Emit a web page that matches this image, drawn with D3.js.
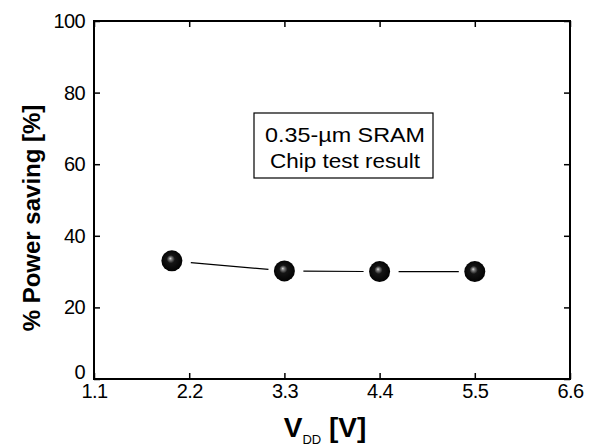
<!DOCTYPE html>
<html><head><meta charset="utf-8">
<script src="https://cdn.jsdelivr.net/npm/d3@7"></script>
<style>body{margin:0;background:#fff}svg{display:block}</style>
</head><body>
<svg id="chart" width="596" height="448"></svg>
<script>
const vdd = [2.0, 3.3, 4.4, 5.5];
const saving = [33, 30.2, 30, 30];
const xTicks = [1.1, 2.2, 3.3, 4.4, 5.5, 6.6];
const yTicks = [0, 20, 40, 60, 80, 100];
const boxLines = ["0.35-\u00b5m SRAM", "Chip test result"];

const svg = d3.select("#chart");
const L = 94, R = 570, T = 21, B = 379;
const x = d3.scaleLinear().domain([1.1, 6.6]).range([L, R]);
const y = d3.scaleLinear().domain([0, 100]).range([B, T]);
const font = "'Liberation Sans', Arial, sans-serif";

const defs = svg.append("defs");
const g = defs.append("radialGradient").attr("id", "ball")
  .attr("cx", "0.5").attr("cy", "0.5").attr("r", "0.55")
  .attr("fx", "0.42").attr("fy", "0.38");
g.append("stop").attr("offset", "0%").attr("stop-color", "#e0e0e0");
g.append("stop").attr("offset", "12%").attr("stop-color", "#808080");
g.append("stop").attr("offset", "35%").attr("stop-color", "#151515");
g.append("stop").attr("offset", "100%").attr("stop-color", "#000");

// axes (inward ticks on all four sides)
const fmt = d3.format(".1f");
svg.append("g").attr("transform", `translate(0,${B})`)
  .call(d3.axisBottom(x).tickValues(xTicks).tickSizeInner(-6).tickSizeOuter(0).tickPadding(5).tickFormat(fmt))
  .call(a => a.select(".domain").remove());
svg.append("g").attr("transform", `translate(0,${T})`)
  .call(d3.axisTop(x).tickValues(xTicks).tickSizeInner(-6).tickSizeOuter(0).tickFormat(""))
  .call(a => a.select(".domain").remove());
svg.append("g").attr("transform", `translate(${L},0)`)
  .call(d3.axisLeft(y).tickValues(yTicks).tickSizeInner(-6).tickSizeOuter(0).tickPadding(9))
  .call(a => a.select(".domain").remove())
  .call(a => a.selectAll(".tick").filter(d => d === 0).select("text").attr("dy", "-0.05em"));
svg.append("g").attr("transform", `translate(${R},0)`)
  .call(d3.axisRight(y).tickValues(yTicks).tickSizeInner(-6).tickSizeOuter(0).tickFormat(""))
  .call(a => a.select(".domain").remove());

svg.selectAll(".tick line").attr("stroke", "#000").attr("stroke-width", 1.5);
svg.selectAll(".tick text").attr("font-family", font).attr("font-size", 20)
  .attr("fill", "#000").attr("letter-spacing", "-0.6px");

svg.append("rect").attr("x", L).attr("y", T).attr("width", R - L).attr("height", B - T)
  .attr("fill", "none").attr("stroke", "#000").attr("stroke-width", 2);

// connecting segments with gaps near markers
const pts = vdd.map((v, i) => [x(v), y(saving[i])]);
const segs = d3.pairs(pts).map(([a, b]) => {
  const dx = b[0] - a[0], dy = b[1] - a[1], len = Math.hypot(dx, dy);
  const ux = dx / len, uy = dy / len;
  return [[a[0] + ux * 19, a[1] + uy * 19], [b[0] - ux * 16, b[1] - uy * 16]];
});
svg.append("g").selectAll("path").data(segs).join("path")
  .attr("d", d => d3.line()(d)).attr("stroke", "#000").attr("stroke-width", 1.2).attr("fill", "none");

svg.append("g").selectAll("circle").data(pts).join("circle")
  .attr("cx", d => d[0]).attr("cy", d => d[1]).attr("r", 10.5)
  .attr("fill", "url(#ball)");

// annotation box
svg.append("rect").attr("x", 254).attr("y", 113).attr("width", 179).attr("height", 65)
  .attr("fill", "#fff").attr("stroke", "#000").attr("stroke-width", 1.2);
const boxWidths = [160, 150];
svg.append("g").selectAll("text").data(boxLines).join("text")
  .attr("x", (d, i) => 345 - boxWidths[i] / 2).attr("y", (d, i) => 142 + i * 26)
  .attr("font-family", font).attr("font-size", 21)
  .attr("textLength", (d, i) => boxWidths[i]).attr("lengthAdjust", "spacingAndGlyphs")
  .attr("fill", "#000").text(d => d);

// axis titles
svg.append("text").attr("transform", `translate(40,${(T + B) / 2 + 18}) rotate(-90)`)
  .attr("text-anchor", "middle").attr("font-family", font).attr("font-size", 24)
  .attr("font-weight", "bold").attr("fill", "#000").text("% Power saving [%]");

const xt = svg.append("text").attr("x", 325).attr("y", 437).attr("text-anchor", "middle")
  .attr("font-family", font).attr("font-weight", "bold").attr("fill", "#000");
xt.append("tspan").attr("font-size", 28).text("V");
xt.append("tspan").attr("font-size", 13).attr("font-weight", "normal").attr("dy", 7).text("DD");
xt.append("tspan").attr("font-size", 28).attr("dy", -7).text(" [V]");
</script>
</body></html>
